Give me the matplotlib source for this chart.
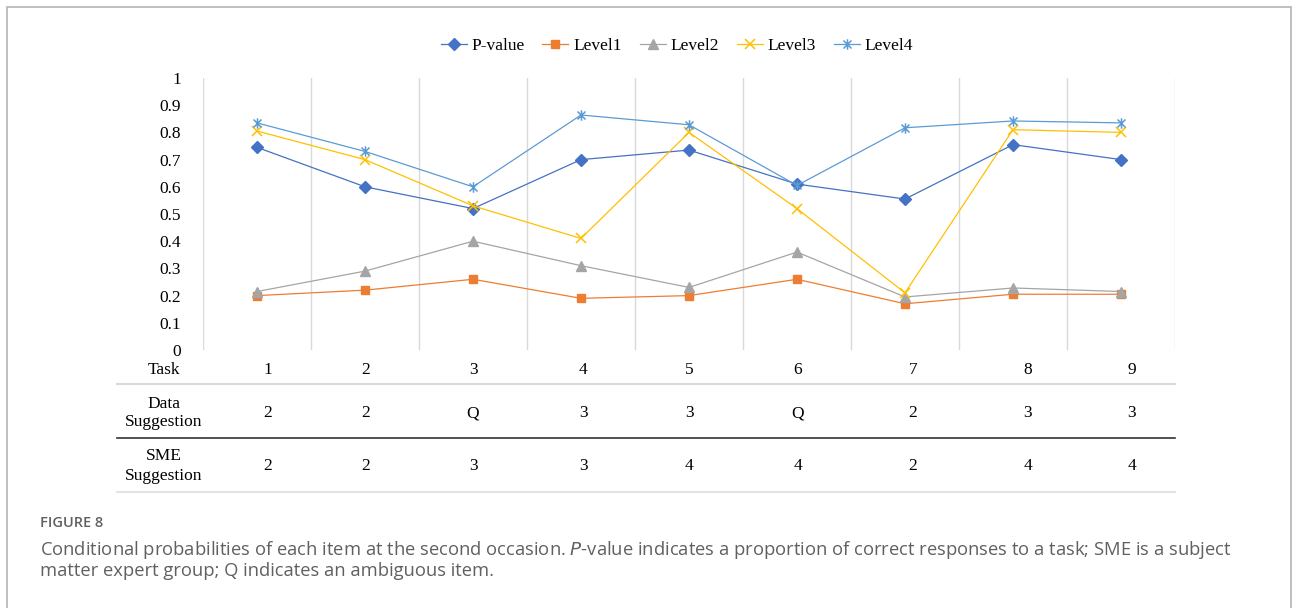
import numpy as np
import matplotlib.pyplot as plt
from matplotlib.path import Path
from matplotlib.lines import Line2D
from matplotlib.patches import Rectangle

# Conditional probabilities per task, second occasion
tasks = [1, 2, 3, 4, 5, 6, 7, 8, 9]
p_value = [0.745, 0.60, 0.52, 0.70, 0.735, 0.61, 0.555, 0.755, 0.70]
level1 = [0.20, 0.22, 0.26, 0.19, 0.20, 0.26, 0.17, 0.205, 0.205]
level2 = [0.215, 0.29, 0.40, 0.31, 0.23, 0.36, 0.195, 0.228, 0.215]
level3 = [0.805, 0.70, 0.53, 0.41, 0.80, 0.52, 0.21, 0.81, 0.80]
level4 = [0.835, 0.73, 0.60, 0.864, 0.828, 0.605, 0.817, 0.842, 0.835]

data_suggestion = ["2", "2", "Q", "3", "3", "Q", "2", "3", "3"]
sme_suggestion = ["2", "2", "3", "3", "4", "4", "2", "4", "4"]

y_ticks = [0, 0.1, 0.2, 0.3, 0.4, 0.5, 0.6, 0.7, 0.8, 0.9, 1]

W, H = 1292, 608
def fx(x):
    return x / W
def fy(y):
    return 1 - y / H

serif = "Liberation Serif"
plt.rcParams['font.family'] = serif

# Excel-style star marker: an "x" with a vertical bar through it
star = Path([(-1, -1), (1, 1), (-1, 1), (1, -1), (0, -1.3), (0, 1.3)],
            [Path.MOVETO, Path.LINETO, Path.MOVETO, Path.LINETO,
             Path.MOVETO, Path.LINETO])

fig = plt.figure(figsize=(W / 100, H / 100), dpi=100)
fig.patch.set_facecolor("white")

# outer frame around the chart and caption
fig.patches.append(Rectangle((fx(7), fy(620)), fx(1291) - fx(7), fy(7) - fy(620),
                             transform=fig.transFigure, fill=False,
                             edgecolor="#b4b4b4", linewidth=1.2))

ax = fig.add_axes([fx(203), fy(350), fx(1175) - fx(203), fy(78) - fy(350)])
x = np.arange(len(tasks))

series = [
    ("P-value", p_value, "#4472C4", "D", 6.3, 1.0),
    ("Level1", level1, "#ED7D31", "s", 6.0, 1.0),
    ("Level2", level2, "#A5A5A5", "^", 6.8, 1.0),
    ("Level3", level3, "#FFC000", "x", 6.8, 1.1),
    ("Level4", level4, "#5B9BD5", star, 7.5, 1.1),
]
handles = []
for name, vals, color, mk, ms, mew in series:
    ln, = ax.plot(x, vals, color=color, linewidth=0.9, marker=mk, markersize=ms,
                  markeredgewidth=mew, markeredgecolor=color, markerfacecolor=color,
                  label=name)
    handles.append(ln)

ax.set_xlim(-0.5, len(tasks) - 0.5)
ax.set_ylim(0, 1)
ax.set_xticks(np.arange(-0.5, len(tasks)), minor=False)
ax.tick_params(axis='x', length=0, labelbottom=False)
ax.grid(True, axis='x', color="#d9d9d9", linewidth=1.0)
ax.set_yticks(y_ticks)
ax.set_yticklabels([f"{v:g}" for v in y_ticks])
ax.tick_params(axis='y', length=0, pad=16, labelsize=12.5)
for s in ax.spines.values():
    s.set_visible(False)

fig.legend(handles=handles, loc='center', bbox_to_anchor=(fx(677), fy(46)),
           ncol=5, frameon=False, fontsize=12.5, handlelength=1.5,
           handletextpad=0.3, columnspacing=1.0)

# table beneath the chart
col_x = [268, 366, 473, 583, 689, 798, 913, 1028, 1132]
tfs = 12.5
fig.text(fx(164), fy(370), "Task", ha='center', va='center', fontsize=tfs)
fig.text(fx(164), fy(413), "Data\nSuggestion", ha='center', va='center',
         fontsize=tfs, linespacing=1.25)
fig.text(fx(164), fy(466), "SME\nSuggestion", ha='center', va='center',
         fontsize=tfs, linespacing=1.25)
for cx, t, d, s in zip(col_x, tasks, data_suggestion, sme_suggestion):
    fig.text(fx(cx), fy(370), str(t), ha='center', va='center', fontsize=tfs)
    fig.text(fx(cx), fy(413), d, ha='center', va='center', fontsize=tfs)
    fig.text(fx(cx), fy(466), s, ha='center', va='center', fontsize=tfs)

for yy, col, lw in [(384, "#d9d9d9", 1.5), (438, "#333333", 1.2), (492, "#e3e3e3", 1.5)]:
    fig.add_artist(Line2D([fx(117), fx(1175)], [fy(yy), fy(yy)],
                          transform=fig.transFigure, color=col, linewidth=lw))

# caption
cap_color = "#606060"
fig.text(fx(40), fy(523), "FIGURE 8", ha='left', va='center', fontsize=10.5,
         family="Open Sans", weight="semibold", color=cap_color)
fig.text(fx(40), fy(550),
         "Conditional probabilities of each item at the second occasion. "
         "$\\it{P}$-value indicates a proportion of correct responses to a task; SME is a subject",
         ha='left', va='center', fontsize=13.2, family="Open Sans", color=cap_color)
fig.text(fx(40), fy(571), "matter expert group; Q indicates an ambiguous item.",
         ha='left', va='center', fontsize=13.2, family="Open Sans", color=cap_color)

fig.savefig("out.png", dpi=100)
